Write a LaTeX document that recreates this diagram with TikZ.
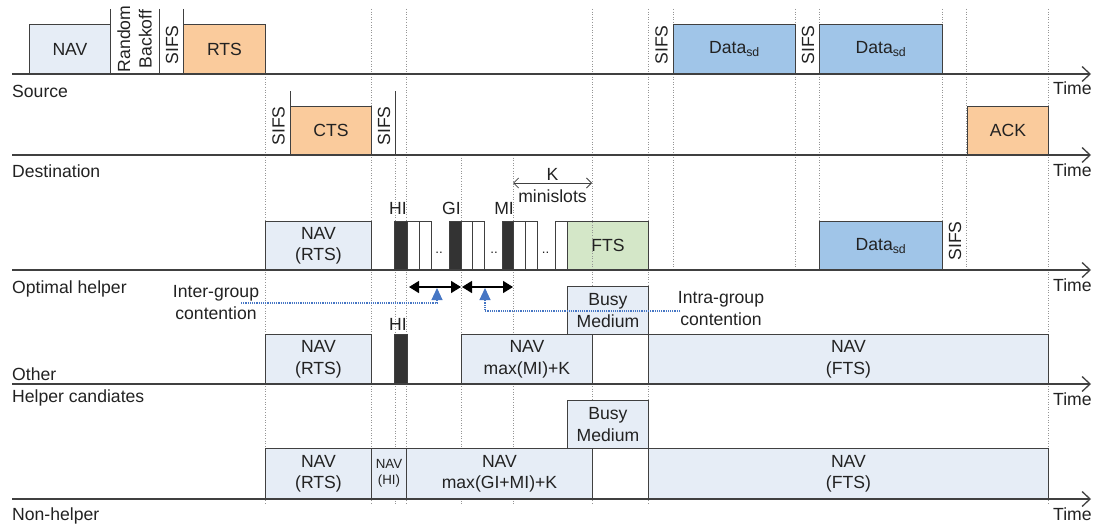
\documentclass[tikz,border=0pt]{standalone}
\usepackage{fontspec}
\setmainfont{Liberation Sans}
\usetikzlibrary{arrows.meta}

\definecolor{edge}{RGB}{64,64,64}
\definecolor{ink}{RGB}{34,34,34}
\definecolor{navfill}{RGB}{230,237,246}
\definecolor{ctlfill}{RGB}{250,203,156}
\definecolor{datafill}{RGB}{160,197,232}
\definecolor{ftsfill}{RGB}{212,231,200}
\definecolor{slotfill}{RGB}{51,51,51}
\definecolor{gridgray}{RGB}{150,150,150}
\definecolor{hint}{RGB}{70,118,196}

\newcommand{\mainsize}{\fontsize{17.6}{21.5}\selectfont}
\newcommand{\smallsize}{\fontsize{13.3}{16}\selectfont}
% \tlbox{name}{style}{left}{right}{top}{bottom}{text}
\newcommand{\tlbox}[7]{\node[#2, minimum width={(#4-#3)*1pt}, minimum height={(#6-#5)*1pt}] (#1) at (#3,#6) {#7};}

\begin{document}
\begin{tikzpicture}[x=1pt, y=-1pt, font=\mainsize, text=ink,
  box/.style={draw=edge, line width=0.9pt, anchor=south west, inner sep=0pt, align=center},
  nav/.style={box, fill=navfill},
  ctl/.style={box, fill=ctlfill},
  data/.style={box, fill=datafill},
  fts/.style={box, fill=ftsfill},
  slotbox/.style={box, fill=white},
  leadslot/.style={box, fill=slotfill},
  grid/.style={draw=gridgray, dotted, line width=0.6pt},
  sep/.style={draw=edge, line width=0.9pt},
  axis/.style={draw=edge, line width=1.5pt, -{Straight Barb[length=8pt,width=15pt,line width=1.3pt]}},
  rowlabel/.style={anchor=base west, inner sep=0pt},
  timelabel/.style={anchor=base west, inner sep=0pt},
  sifs/.style={rotate=90, inner sep=0pt},
  slotlabel/.style={anchor=base east, inner sep=0pt},
  dots/.style={anchor=base, inner sep=0pt, font=\smallsize},
  contend/.style={draw=black, line width=1.4pt, {Triangle[width=12pt,length=10pt]}-{Triangle[width=12pt,length=10pt]}},
  kspan/.style={draw=edge, line width=0.8pt, {Straight Barb[length=5pt,width=10pt]}-{Straight Barb[length=5pt,width=10pt]}},
  hintline/.style={draw=hint, line width=1.1pt, dash pattern=on 1.2pt off 1pt, -{Triangle[width=11pt,length=12pt]}},
  note/.style={align=center, inner sep=0pt}]
\useasboundingbox (0,0) rectangle (1095,527);

% timing grid
\foreach \gx/\gt/\gb in {265/74/505, 371/9/505, 395/155/505, 406/9/505, 461/155/505,
    513/155/505, 592/9/505, 648/9/505, 673/9/270, 795/9/270, 819/9/270,
    942/9/270, 966/9/270, 1048/9/505}
  \draw[grid] (\gx,\gt) -- (\gx,\gb);

% ---------- Source ----------
\draw[sep] (110,9) -- (110,74);
\draw[sep] (159,9) -- (159,74);
\draw[sep] (183,9) -- (183,74);
\tlbox{srcnav}{nav}{29}{110}{25}{74}{NAV}
\node[rotate=90, align=center, inner sep=0pt] (backoff) at (134.5,39) {Random\\Backoff};
\node[sifs] (srcsifs1) at (172,45) {SIFS};
\tlbox{rts}{ctl}{183}{265}{25}{74}{RTS}
\node[sifs] (srcsifs2) at (661.5,45) {SIFS};
\tlbox{data1}{data}{673}{795}{25}{74}{Data\textsubscript{sd}}
\node[sifs] (srcsifs3) at (808,45) {SIFS};
\tlbox{data2}{data}{819}{942}{25}{74}{Data\textsubscript{sd}}

% ---------- Destination ----------
\draw[sep] (290,91) -- (290,155);
\draw[sep] (395,91) -- (395,155);
\node[sifs] (dstsifs1) at (278.5,126) {SIFS};
\tlbox{cts}{ctl}{290}{371}{107}{155}{CTS}
\node[sifs] (dstsifs2) at (384,126) {SIFS};
\tlbox{ack}{ctl}{967}{1048}{107}{155}{ACK}

% ---------- Optimal helper ----------
\tlbox{optnav}{nav}{265}{371}{222}{270}{NAV\\(RTS)}
\tlbox{hislot}{leadslot}{394}{407}{222}{270}{}
\tlbox{hia}{slotbox}{407}{419}{222}{270}{}
\tlbox{hib}{slotbox}{419}{431}{222}{270}{}
\tlbox{gislot}{leadslot}{449}{461}{222}{270}{}
\tlbox{gia}{slotbox}{461}{472}{222}{270}{}
\tlbox{gib}{slotbox}{472}{484}{222}{270}{}
\tlbox{mislot}{leadslot}{502}{513}{222}{270}{}
\tlbox{mia}{slotbox}{513}{525}{222}{270}{}
\tlbox{mib}{slotbox}{525}{537}{222}{270}{}
\tlbox{lastslot}{slotbox}{555}{567}{222}{270}{}
\tlbox{fts}{fts}{567}{648}{222}{270}{FTS}
\draw[grid] (592,222) -- (592,270);
\node[dots] (dotsa) at (439,253) {..};
\node[dots] (dotsb) at (494,253) {..};
\node[dots] (dotsc) at (545.5,253) {..};
\node[slotlabel] (hilbl) at (407,214) {HI};
\node[slotlabel] (gilbl) at (461,214) {GI};
\node[slotlabel] (milbl) at (514,214) {MI};
\coordinate (kL) at (513,183);
\coordinate (kR) at (592,183);
\draw[kspan] (kL) -- (kR);
\node[anchor=base, inner sep=0pt] (klbl) at (552.5,180) {K};
\node[anchor=base, inner sep=0pt] (mslbl) at (552.5,202) {minislots};
\tlbox{optdata}{data}{819}{942}{222}{270}{Data\textsubscript{sd}}
\node[sifs] (optsifs) at (955,241) {SIFS};

% ---------- Other helper candidates ----------
\tlbox{busya}{nav}{567}{648}{287}{335}{Busy\\Medium}
\tlbox{othnav}{nav}{265}{371}{335}{384}{NAV\\(RTS)}
\tlbox{othhi}{leadslot}{394}{407}{335}{384}{}
\node[slotlabel] (othhilbl) at (407,330) {HI};
\tlbox{othmax}{nav}{461}{592}{335}{384}{NAV\\max(MI)+K}
\tlbox{othfts}{nav}{648}{1048}{335}{384}{NAV\\(FTS)}

% contention windows
\coordinate (igL) at (409,287);
\coordinate (igR) at (461,287);
\coordinate (agL) at (462,287);
\coordinate (agR) at (513,287);
\draw[contend] (igL) -- (igR);
\draw[contend] (agL) -- (agR);
\node[note] (interlbl) at (216,302.5) {Inter-group\\contention};
\node[note] (intralbl) at (721,308.5) {Intra-group\\contention};
\coordinate (igFrom) at (241,303);
\coordinate (igTip) at (437,288);
\coordinate (agFrom) at (680,311);
\coordinate (agTip) at (485,288);
\draw[hintline] (igFrom) -| (igTip);
\draw[hintline] (agFrom) -| (agTip);

% ---------- Non-helper ----------
\tlbox{busyb}{nav}{567}{648}{401}{449}{Busy\\Medium}
\tlbox{nonnav}{nav}{265}{371}{449}{499}{NAV\\(RTS)}
\tlbox{nonhi}{nav,font=\smallsize}{371}{406}{449}{499}{NAV\\(HI)}
\tlbox{nonmax}{nav}{406}{592}{449}{499}{NAV\\max(GI+MI)+K}
\tlbox{nonfts}{nav}{648}{1048}{449}{499}{NAV\\(FTS)}

% ---------- time axes ----------
\foreach \name/\ay in {src/74, dst/155, opt/270, oth/384, non/499} {
  \coordinate (\name A) at (12,\ay);
  \coordinate (\name B) at (1091,\ay);
  \draw[axis] (\name A) -- (\name B);
  \node[timelabel] (\name T) at (1053,\ay+21) {Time};
}

% row names
\node[rowlabel] (srclbl) at (12,97) {Source};
\node[rowlabel] (dstlbl) at (12,177) {Destination};
\node[rowlabel] (optlbl) at (12,293) {Optimal helper};
\node[rowlabel] (othlbl) at (12,380) {Other};
\node[rowlabel] (candlbl) at (12,402) {Helper candiates};
\node[rowlabel] (nonlbl) at (12,520) {Non-helper};
\end{tikzpicture}
\end{document}
